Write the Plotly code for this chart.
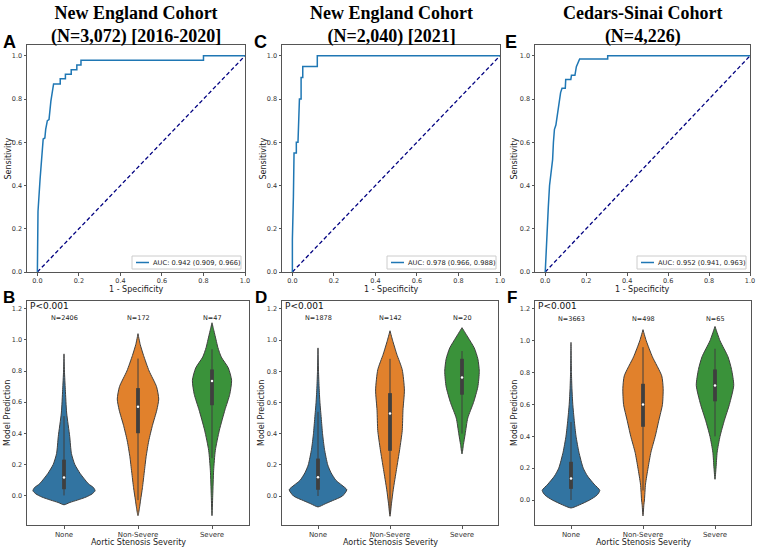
import plotly.graph_objects as go

W, H = 760, 548

# ---------------- data ----------------
TITLES = ["<b>New England Cohort<br>(N=3,072) [2016-2020]</b>",
          "<b>New England Cohort<br>(N=2,040) [2021]</b>",
          "<b>Cedars-Sinai Cohort<br>(N=4,226)</b>"]
ROC_LETTERS = ["A", "C", "E"]
VIO_LETTERS = ["B", "D", "F"]
AUC_TEXT = ["AUC: 0.942 (0.909, 0.966)",
            "AUC: 0.978 (0.966, 0.988)",
            "AUC: 0.952 (0.941, 0.963)"]

A_FPR = [0, 0.003, 0.013, 0.02, 0.025, 0.028, 0.036, 0.04, 0.048, 0.056, 0.065, 0.072, 0.078,
         0.11, 0.11, 0.135, 0.135, 0.163, 0.163, 0.19, 0.19, 0.21, 0.21, 0.80, 0.80, 1.0]
A_TPR = [0, 0.28, 0.43, 0.51, 0.58, 0.615, 0.62, 0.66, 0.70, 0.705, 0.79, 0.83, 0.87,
         0.87, 0.894, 0.894, 0.915, 0.915, 0.936, 0.936, 0.957, 0.957, 0.98, 0.98, 1.0, 1.0]

C_FPR = [0, 0.0, 0.005, 0.008, 0.019, 0.019, 0.027, 0.03, 0.034, 0.042, 0.042, 0.05, 0.05,
         0.12, 0.12, 1.0]
C_TPR = [0, 0.15, 0.35, 0.55, 0.55, 0.6, 0.6, 0.7, 0.8, 0.8, 0.9, 0.9, 0.95,
         0.95, 1.0, 1.0]

E_FPR = [0, 0.004, 0.008, 0.015, 0.021, 0.028, 0.036, 0.04, 0.045, 0.052, 0.06, 0.068, 0.075,
         0.082, 0.098, 0.1, 0.125, 0.128, 0.145, 0.152, 0.16, 0.168, 0.305, 0.305, 1.0]
E_TPR = [0, 0.1, 0.21, 0.3, 0.40, 0.47, 0.52, 0.6, 0.66, 0.68, 0.74, 0.79, 0.83,
         0.85, 0.85, 0.89, 0.89, 0.91, 0.91, 0.95, 0.97, 0.985, 0.985, 1.0, 1.0]

CATEGORIES = ["None", "Non-Severe", "Severe"]
B_COUNTS = [2406, 172, 47]
D_COUNTS = [1878, 142, 20]
F_COUNTS = [3663, 498, 65]

# violin outlines: levels (prediction) and half-widths (category units)
B_NONE_Y = [-0.06, -0.045, -0.03, -0.01, 0.01, 0.03, 0.05, 0.075, 0.14, 0.2, 0.27, 0.38, 0.53, 0.68, 0.8, 0.91]
B_NONE_W = [0, 0.08, 0.18, 0.30, 0.38, 0.42, 0.40, 0.33, 0.22, 0.145, 0.10, 0.077, 0.036, 0.018, 0.006, 0]
B_MOD_Y = [-0.13, -0.08, -0.03, 0.05, 0.15, 0.25, 0.35, 0.45, 0.55, 0.62, 0.7, 0.8, 0.9, 0.97, 1.04]
B_MOD_W = [0, 0.02, 0.035, 0.06, 0.085, 0.11, 0.145, 0.195, 0.255, 0.28, 0.25, 0.15, 0.075, 0.03, 0]
B_SEV_Y = [-0.13, 0.0, 0.16, 0.29, 0.42, 0.55, 0.65, 0.74, 0.82, 0.89, 0.95, 1.0, 1.06, 1.11]
B_SEV_W = [0, 0.01, 0.022, 0.045, 0.1, 0.175, 0.24, 0.265, 0.22, 0.125, 0.08, 0.055, 0.025, 0]

D_NONE_Y = [-0.07, -0.05, -0.03, 0.0, 0.04, 0.07, 0.1, 0.15, 0.2, 0.3, 0.4, 0.5, 0.6, 0.7, 0.8, 0.95]
D_NONE_W = [0, 0.1, 0.2, 0.34, 0.40, 0.33, 0.25, 0.18, 0.135, 0.09, 0.063, 0.045, 0.027, 0.015, 0.007, 0]
D_MOD_Y = [-0.13, -0.05, 0.04, 0.17, 0.3, 0.42, 0.55, 0.68, 0.81, 0.91, 1.0, 1.06]
D_MOD_W = [0, 0.02, 0.045, 0.09, 0.135, 0.17, 0.18, 0.2, 0.17, 0.094, 0.035, 0]
D_SEV_Y = [0.27, 0.33, 0.4, 0.5, 0.6, 0.7, 0.8, 0.88, 0.95, 1.02, 1.08]
D_SEV_W = [0, 0.02, 0.045, 0.08, 0.16, 0.22, 0.24, 0.22, 0.17, 0.08, 0]

F_NONE_Y = [-0.05, -0.03, 0.0, 0.03, 0.06, 0.1, 0.15, 0.2, 0.3, 0.4, 0.5, 0.6, 0.7, 0.8, 0.99]
F_NONE_W = [0, 0.12, 0.26, 0.36, 0.40, 0.32, 0.23, 0.17, 0.11, 0.07, 0.045, 0.025, 0.013, 0.006, 0]
F_MOD_Y = [-0.1, -0.03, 0.0, 0.1, 0.2, 0.3, 0.4, 0.5, 0.6, 0.7, 0.78, 0.9, 1.0, 1.07]
F_MOD_W = [0, 0.012, 0.02, 0.035, 0.07, 0.11, 0.17, 0.22, 0.27, 0.28, 0.26, 0.13, 0.045, 0]
F_SEV_Y = [0.13, 0.2, 0.3, 0.4, 0.5, 0.6, 0.72, 0.82, 0.9, 1.0, 1.09]
F_SEV_W = [0, 0.014, 0.03, 0.07, 0.13, 0.2, 0.26, 0.23, 0.18, 0.07, 0]

# inner box stats per category: [whisker low, q1, median, q3, whisker high]
B_BOX = [[0.0, 0.04, 0.115, 0.23, 0.51], [-0.03, 0.40, 0.57, 0.69, 0.88], [0.24, 0.58, 0.735, 0.81, 0.94]]
D_BOX = [[0.0, 0.04, 0.12, 0.24, 0.54], [-0.1, 0.29, 0.53, 0.66, 0.88], [0.40, 0.65, 0.76, 0.88, 0.93]]
F_BOX = [[0.0, 0.07, 0.135, 0.24, 0.49], [0.06, 0.46, 0.60, 0.73, 0.96], [0.40, 0.62, 0.72, 0.82, 0.95]]

VIOLIN_COLORS = ["#3274a1", "#e1812c", "#3a923a"]
EDGE = "#3f3f3f"
ROC_COLOR = "#1f77b4"

# ---------------- layout geometry (pixels) ----------------
ROC_X = [(27, 245), (282, 500), (535, 750)]
VIO_X = [(27, 249), (282, 498), (535, 751)]
ROC_Y = (45, 272)
VIO_Y = (301, 525)
VIO_YRANGE = [[-0.19, 1.25], [-0.186, 1.251], [-0.157, 1.25]]


def px(x):
    return x / W


def py(y):
    return 1 - y / H


FONT = "DejaVu Sans"
fig = go.Figure()

rocs = [(A_FPR, A_TPR), (C_FPR, C_TPR), (E_FPR, E_TPR)]
vios = [
    ([(B_NONE_Y, B_NONE_W), (B_MOD_Y, B_MOD_W), (B_SEV_Y, B_SEV_W)], B_BOX, B_COUNTS),
    ([(D_NONE_Y, D_NONE_W), (D_MOD_Y, D_MOD_W), (D_SEV_Y, D_SEV_W)], D_BOX, D_COUNTS),
    ([(F_NONE_Y, F_NONE_W), (F_MOD_Y, F_MOD_W), (F_SEV_Y, F_SEV_W)], F_BOX, F_COUNTS),
]

annotations = []
shapes = []
layout_axes = {}


def label(x, y, text, size, angle=0, xanchor="center", family=FONT, color="#222"):
    return dict(x=px(x), y=py(y), xref="paper", yref="paper", xanchor=xanchor, yanchor="middle",
                text=text, textangle=angle, showarrow=False, borderpad=0,
                font=dict(family=family, size=size, color=color))


for i in range(3):
    rx, ry = f"x{i+1}", f"y{i+1}"
    vx, vy = f"x{i+4}", f"y{i+4}"
    fpr, tpr = rocs[i]
    fig.add_trace(go.Scatter(x=[0, 1], y=[0, 1], mode="lines", xaxis=rx, yaxis=ry,
                             line=dict(color="navy", width=1.3, dash="4px,2.5px"), showlegend=False))
    fig.add_trace(go.Scatter(x=fpr, y=tpr, mode="lines", xaxis=rx, yaxis=ry,
                             line=dict(color=ROC_COLOR, width=1.5),
                             name=AUC_TEXT[i], showlegend=False))
    profiles, boxes, counts = vios[i]
    for c in range(3):
        ys, ws = profiles[c]
        xs = [c + w for w in ws] + [c - w for w in reversed(ws)]
        yy = list(ys) + list(reversed(ys))
        fig.add_trace(go.Scatter(x=xs, y=yy, mode="lines", fill="toself", xaxis=vx, yaxis=vy,
                                 fillcolor=VIOLIN_COLORS[c],
                                 line=dict(color=EDGE, width=1, shape="spline", smoothing=0.6),
                                 showlegend=False, hoverinfo="skip"))
        wlo, q1, med, q3, whi = boxes[c]
        fig.add_trace(go.Scatter(x=[c, c], y=[wlo, whi], mode="lines", xaxis=vx, yaxis=vy,
                                 line=dict(color=EDGE, width=1), showlegend=False))
        fig.add_trace(go.Scatter(x=[c, c], y=[q1, q3], mode="lines", xaxis=vx, yaxis=vy,
                                 line=dict(color=EDGE, width=3.8), showlegend=False))
        fig.add_trace(go.Scatter(x=[c], y=[med], mode="markers", xaxis=vx, yaxis=vy,
                                 marker=dict(color="white", size=2.5), showlegend=False))
        annotations.append(dict(x=c, y=1.14, xref=vx, yref=vy, text=f"N={counts[c]}", showarrow=False,
                                yanchor="middle", font=dict(family=FONT, size=6.5, color="#222")))

    common = dict(showline=True, mirror=True, linecolor="#555", linewidth=1, ticks="outside",
                  ticklen=2.5, tickcolor="#555", showgrid=False, zeroline=False, automargin=False,
                  tickfont=dict(family=FONT, size=6.5, color="#333"))
    k = "" if i == 0 else str(i + 1)
    layout_axes[f"xaxis{k}"] = dict(domain=[px(ROC_X[i][0]), px(ROC_X[i][1])], anchor=ry,
                                    range=[-0.05, 1.0], tickvals=[0, 0.2, 0.4, 0.6, 0.8, 1.0],
                                    tickformat=".1f", **common)
    layout_axes[f"yaxis{k}"] = dict(domain=[py(ROC_Y[1]), py(ROC_Y[0])], anchor=rx,
                                    range=[0, 1.05], tickvals=[0, 0.2, 0.4, 0.6, 0.8, 1.0],
                                    tickformat=".1f", **common)
    layout_axes[f"xaxis{i+4}"] = dict(domain=[px(VIO_X[i][0]), px(VIO_X[i][1])], anchor=vy,
                                      range=[-0.5, 2.5], tickvals=[0, 1, 2], ticktext=CATEGORIES,
                                      **{**common, "tickfont": dict(family=FONT, size=7, color="#333")})
    layout_axes[f"yaxis{i+4}"] = dict(domain=[py(VIO_Y[1]), py(VIO_Y[0])], anchor=vx,
                                      range=VIO_YRANGE[i], tickvals=[0, 0.2, 0.4, 0.6, 0.8, 1.0, 1.2],
                                      tickformat=".1f", **common)

    # legend box (drawn like the matplotlib legend in the corner)
    lx0, lx1 = ROC_X[i][1] - 113, ROC_X[i][1] - 4
    ly0, ly1 = ROC_Y[1] - 16, ROC_Y[1] - 3
    shapes.append(dict(type="rect", xref="paper", yref="paper", x0=px(lx0), x1=px(lx1),
                       y0=py(ly1), y1=py(ly0), line=dict(color="#cccccc", width=1),
                       fillcolor="rgba(255,255,255,0.8)", layer="above"))
    shapes.append(dict(type="line", xref="paper", yref="paper", x0=px(lx0 + 4), x1=px(lx0 + 17),
                       y0=py((ly0 + ly1) / 2), y1=py((ly0 + ly1) / 2),
                       line=dict(color=ROC_COLOR, width=1.5), layer="above"))
    annotations.append(label(lx0 + 20, (ly0 + ly1) / 2, AUC_TEXT[i], 6.7, xanchor="left"))

    cx_roc = (ROC_X[i][0] + ROC_X[i][1]) / 2
    cx_vio = (VIO_X[i][0] + VIO_X[i][1]) / 2
    annotations += [
        dict(x=px(cx_roc), y=py(1), xref="paper", yref="paper", xanchor="center", yanchor="top",
             text=TITLES[i], showarrow=False, font=dict(family="Liberation Serif", size=18, color="black")),
        label([2, 253, 504][i], 42, f"<b>{ROC_LETTERS[i]}</b>", 18, xanchor="left",
              family="Liberation Sans", color="black"),
        label([2, 254, 506][i], 298, f"<b>{VIO_LETTERS[i]}</b>", 17, xanchor="left",
              family="Liberation Sans", color="black"),
        label([8, 263, 514][i], (ROC_Y[0] + ROC_Y[1]) / 2, "Sensitivity", 8, angle=-90),
        label(cx_roc, 289, "1 - Specificity", 8),
        label([7, 261, 514][i], (VIO_Y[0] + VIO_Y[1]) / 2, "Model Prediction", 8, angle=-90),
        label(cx_vio, 542, "Aortic Stenosis Severity", 8),
        label(VIO_X[i][0] + 2, 306, "P<0.001", 9, xanchor="left", color="#111"),
    ]

fig.update_layout(width=W, height=H, margin=dict(l=0, r=0, t=0, b=0),
                  paper_bgcolor="white", plot_bgcolor="white", showlegend=False,
                  annotations=annotations, shapes=shapes, **layout_axes)

fig.write_html("out.html", config={"displayModeBar": False},
               post_script="document.body.style.margin='0px';")
